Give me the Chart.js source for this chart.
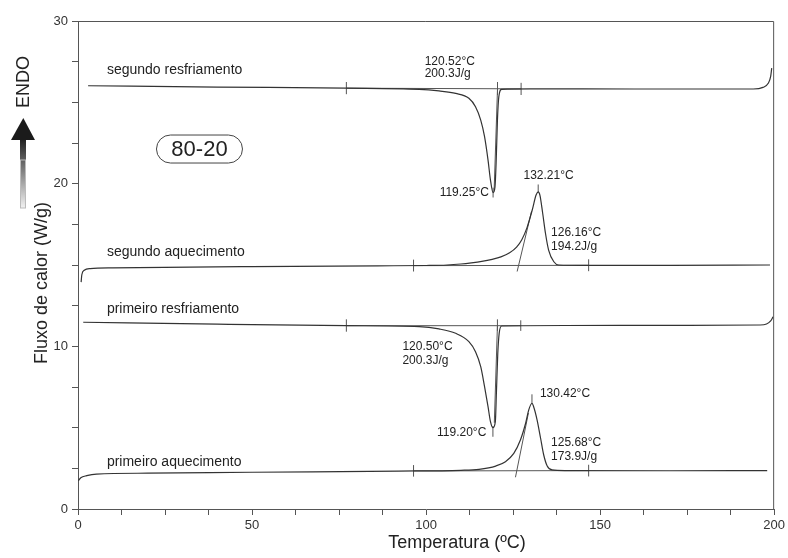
<!DOCTYPE html>
<html lang="pt">
<head>
  <meta charset="UTF-8" />
  <title>DSC 80-20</title>
  <script src="https://cdn.jsdelivr.net/npm/chart.js"></script>
  <style>
    body { margin: 0; background: #fff; }
    #wrap { width: 788px; height: 558px; position: relative; }
  </style>
</head>
<body>
  <div id="wrap"><canvas id="dsc"></canvas></div>

  <script>
    // segundo resfriamento
    const tempCool2 = [2.9, 40, 77, 98, 103.7, 108.5, 112.3, 114.2, 115.7, 116.8, 117.8, 118.5, 119.25, 119.8, 120.15, 120.5, 120.9, 121.7, 130, 160, 194, 196.8, 198.3, 199.0, 199.3];
    const flowCool2 = [26.02, 25.94, 25.87, 25.80, 25.70, 25.55, 25.25, 24.73, 23.91, 22.89, 21.45, 20.22, 19.45, 19.8, 21.45, 23.9, 25.35, 25.80, 25.83, 25.82, 25.82, 25.92, 26.17, 26.6, 27.1];

    // segundo aquecimento
    const tempHeat2 = [0.9, 1.1, 1.8, 3.5, 10, 50, 86, 100, 106, 110, 113, 116, 119, 121.5, 124, 126, 127.5, 129.0, 130.5, 131.6, 132.21, 132.7, 133.5, 134.3, 135.2, 136.7, 138.1, 145, 170, 198.8];
    const flowHeat2 = [13.95, 14.4, 14.68, 14.78, 14.82, 14.9, 14.95, 14.97, 15.0, 15.06, 15.13, 15.22, 15.35, 15.5, 15.75, 16.1, 16.55, 17.3, 18.38, 19.3, 19.5, 19.3, 18.18, 16.95, 15.92, 15.2, 15.0, 14.98, 14.98, 15.0];

    // primeiro resfriamento
    const tempCool1 = [1.5, 40, 77, 98, 103.7, 108.5, 112.3, 114.2, 115.7, 116.8, 117.8, 118.5, 119.2, 119.9, 120.2, 120.6, 121.0, 121.7, 140, 170, 195.9, 197.8, 199.0, 199.7];
    const flowCool1 = [11.48, 11.36, 11.27, 11.21, 11.07, 10.8, 10.29, 9.67, 8.75, 7.52, 6.29, 5.37, 5.0, 5.37, 7.11, 9.57, 10.8, 11.25, 11.28, 11.29, 11.31, 11.37, 11.56, 11.82];

    // primeiro aquecimento
    const tempHeat1 = [0.1, 0.8, 2.5, 5.3, 20, 50, 92, 110, 115.2, 120, 122.8, 125.2, 127.1, 128.6, 129.5, 130.42, 130.9, 131.9, 132.9, 133.8, 134.8, 136.2, 140, 170, 198];
    const flowHeat1 = [1.74, 1.92, 2.05, 2.15, 2.2, 2.26, 2.33, 2.38, 2.44, 2.64, 2.91, 3.42, 4.24, 5.27, 6.09, 6.5, 6.29, 5.47, 4.35, 3.32, 2.64, 2.40, 2.36, 2.35, 2.36];

    // analysis marks: integration limits, baselines, onset tangents, peak markers [x1, y1, x2, y2]
    const analysisSegments = [
      [77.1, 25.5, 77.1, 26.25], [127.3, 25.45, 127.3, 26.2], [77.1, 25.87, 127.3, 25.83],
      [120.52, 25.45, 120.52, 26.25], [120.52, 25.85, 119.55, 19.6], [119.25, 19.15, 119.25, 19.75],

      [96.4, 14.6, 96.4, 15.33], [146.7, 14.62, 146.7, 15.35], [96.4, 14.96, 146.7, 14.98],
      [126.16, 14.6, 130.3, 18.3], [132.21, 19.45, 132.21, 19.95],

      [77.1, 10.9, 77.1, 11.66], [127.2, 10.95, 127.2, 11.6], [77.1, 11.27, 127.2, 11.27],
      [120.5, 10.95, 120.5, 11.66], [120.5, 11.27, 119.6, 5.3], [119.2, 4.44, 119.2, 5.1],

      [96.4, 1.99, 96.4, 2.7], [146.7, 2.0, 146.7, 2.72], [96.4, 2.34, 146.7, 2.36],
      [125.68, 1.95, 129.4, 5.9], [130.42, 6.45, 130.42, 7.05]
    ];

    // text notes: [text, x, y, align, size]
    const notes = [
      ['segundo resfriamento', 8.3, 27.0, 'left', 14],
      ['segundo aquecimento', 8.3, 15.8, 'left', 14],
      ['primeiro resfriamento', 8.3, 12.29, 'left', 14],
      ['primeiro aquecimento', 8.3, 2.89, 'left', 14],
      ['120.52°C', 99.6, 27.5, 'left', 12],
      ['200.3J/g', 99.6, 26.74, 'left', 12],
      ['119.25°C', 118.05, 19.44, 'right', 12],
      ['132.21°C', 135.2, 20.49, 'center', 12],
      ['126.16°C', 135.9, 16.99, 'left', 12],
      ['194.2J/g', 135.9, 16.12, 'left', 12],
      ['120.50°C', 93.2, 9.98, 'left', 12],
      ['200.3J/g', 93.2, 9.12, 'left', 12],
      ['119.20°C', 117.3, 4.72, 'right', 12],
      ['130.42°C', 132.7, 7.11, 'left', 12],
      ['125.68°C', 135.9, 4.10, 'left', 12],
      ['173.9J/g', 135.9, 3.22, 'left', 12]
    ];

    const FONT = 'Arial, "Liberation Sans", sans-serif';
    const toPoints = (xs, ys) => xs.map((x, i) => ({ x: x, y: ys[i] }));

    const curve = (xs, ys) => ({
      data: toPoints(xs, ys),
      showLine: true,
      borderColor: '#333',
      borderWidth: 1.2,
      pointRadius: 0,
      cubicInterpolationMode: 'monotone'
    });

    const datasets = [
      curve(tempCool2, flowCool2),
      curve(tempHeat2, flowHeat2),
      curve(tempCool1, flowCool1),
      curve(tempHeat1, flowHeat1)
    ];
    analysisSegments.forEach(s => {
      datasets.push({
        data: [{ x: s[0], y: s[1] }, { x: s[2], y: s[3] }],
        showLine: true,
        borderColor: '#555',
        borderWidth: 1,
        pointRadius: 0
      });
    });

    const decorations = {
      id: 'decorations',
      afterDraw(chart) {
        const ctx = chart.ctx;
        const a = chart.chartArea;
        const xs = chart.scales.x, ys = chart.scales.y;
        ctx.save();

        // frame top + right
        ctx.strokeStyle = '#555';
        ctx.lineWidth = 1;
        ctx.beginPath();
        ctx.moveTo(a.left, a.top + 0.5);
        ctx.lineTo(a.right - 0.5, a.top + 0.5);
        ctx.lineTo(a.right - 0.5, a.bottom);
        ctx.stroke();

        // notes
        ctx.fillStyle = '#222';
        ctx.textBaseline = 'middle';
        notes.forEach(n => {
          ctx.font = n[4] + 'px ' + FONT;
          ctx.textAlign = n[3];
          ctx.fillText(n[0], xs.getPixelForValue(n[1]), ys.getPixelForValue(n[2]));
        });

        // sample tag
        const cx = xs.getPixelForValue(34.9), cy = ys.getPixelForValue(22.13);
        ctx.beginPath();
        ctx.roundRect(cx - 43, cy - 14, 86, 28, 14);
        ctx.strokeStyle = '#444';
        ctx.stroke();
        ctx.font = '22px ' + FONT;
        ctx.textAlign = 'center';
        ctx.fillStyle = '#222';
        ctx.fillText('80-20', cx, cy + 1);

        // axis titles
        ctx.font = '18px ' + FONT;
        ctx.fillText('Temperatura (ºC)', 457, 543);
        ctx.save();
        ctx.translate(42, 283);
        ctx.rotate(-Math.PI / 2);
        ctx.fillText('Fluxo de calor (W/g)', 0, 0);
        ctx.restore();

        // ENDO arrow
        ctx.save();
        ctx.translate(24, 82);
        ctx.rotate(-Math.PI / 2);
        ctx.fillText('ENDO', 0, 0);
        ctx.restore();

        const g = ctx.createLinearGradient(0, 140, 0, 208);
        g.addColorStop(0, '#222');
        g.addColorStop(1, '#f2f2f2');
        ctx.fillStyle = g;
        ctx.fillRect(20, 139, 6, 69);
        ctx.strokeStyle = '#bbb';
        ctx.strokeRect(20.5, 160, 5, 48);
        ctx.fillStyle = '#1b1b1b';
        ctx.beginPath();
        ctx.moveTo(23.3, 118);
        ctx.lineTo(35, 140);
        ctx.lineTo(11, 140);
        ctx.closePath();
        ctx.fill();

        ctx.restore();
      }
    };

    new Chart(document.getElementById('dsc'), {
      type: 'scatter',
      data: { datasets: datasets },
      plugins: [decorations],
      options: {
        responsive: true,
        maintainAspectRatio: false,
        animation: false,
        layout: { padding: { top: 21, right: 12, left: 0, bottom: 0 } },
        plugins: { legend: { display: false }, tooltip: { enabled: false } },
        scales: {
          x: {
            type: 'linear',
            min: 0,
            max: 200,
            afterFit: s => { s.height = 49; },
            ticks: {
              stepSize: 12.5,
              autoSkip: false,
              maxRotation: 0,
              padding: 3,
              color: '#333',
              font: { size: 13, family: FONT },
              callback: v => (v % 50 === 0 ? v : '')
            },
            grid: { drawOnChartArea: false, tickLength: 6, color: '#555' },
            border: { color: '#555', width: 1 }
          },
          y: {
            min: 0,
            max: 30,
            afterFit: s => { s.width = 78; },
            ticks: {
              stepSize: 2.5,
              autoSkip: false,
              padding: 4,
              color: '#333',
              font: { size: 13, family: FONT },
              callback: v => (v % 10 === 0 ? v : '')
            },
            grid: { drawOnChartArea: false, tickLength: 6, color: '#555' },
            border: { color: '#555', width: 1 }
          }
        }
      }
    });
  </script>
</body>
</html>
